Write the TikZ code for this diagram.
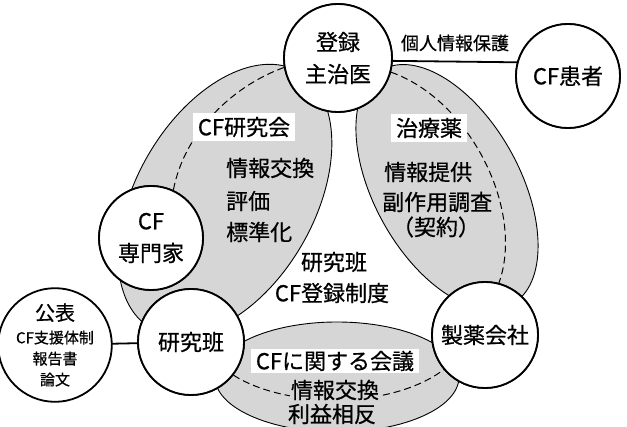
\documentclass[tikz,border=0pt]{standalone}
\usepackage{fontspec}
\setmainfont{Noto Sans CJK JP}[FakeBold=0.6]
\usetikzlibrary{shapes.geometric}
\definecolor{regiongray}{gray}{0.84}
\begin{document}
\begin{tikzpicture}[x=1pt,y=-1pt,
  circ/.style={circle, draw, line width=1.8pt, fill=white, inner sep=0pt, align=center,
    font=\fontsize{22}{32}\selectfont},
  region/.style={ellipse, draw, line width=0.9pt, fill=regiongray, inner sep=0pt},
  dashline/.style={dash pattern=on 7pt off 4pt, line width=1pt},
  conn/.style={line width=1.8pt},
  wlabel/.style={fill=white, inner xsep=5pt, inner ysep=4pt, font=\fontsize{22}{24}\selectfont},
  glabel/.style={fill=regiongray, inner sep=1pt, font=\fontsize{22}{24}\selectfont},
  txt/.style={inner sep=0pt, font=\fontsize{22}{24}\selectfont}
]
\useasboundingbox[fill=white] (0,0) rectangle (627,427);

% shaded regions
\node[region, minimum width=296pt, minimum height=178pt, rotate=60] (leftreg) at (225,200) {};
\node[region, minimum width=268pt, minimum height=146pt, rotate=-61] (rightreg) at (447,187) {};
\node[region, minimum width=244pt, minimum height=110pt] (bottomreg) at (337,377) {};

% circles (declared first for anchors)
\path
  (338,58) node[circ, minimum size=108pt] (doroku) {}
  (568,76) node[circ, minimum size=104pt] (patient) {}
  (151,238) node[circ, minimum size=104pt] (expert) {}
  (191,342) node[circ, minimum size=106pt] (kenkyu) {}
  (55,345) node[circ, minimum size=100pt] (kohyo) {}
  (485,335) node[circ, minimum size=106pt] (seiyaku) {};

% dashed arcs
\draw[dashline] (doroku.190) .. controls (235,85) and (185,130) .. (expert.65);
\draw[dashline] (doroku.-15) .. controls (470,100) and (525,210) .. (seiyaku.75);
\draw[dashline] (kenkyu.-38) .. controls (285,408) and (390,410) .. (seiyaku.220);

% labels in regions
\node[wlabel] (lab1) at (244,127) {CF研究会};
\node[txt, anchor=west] (l1a) at (226,168) {情報交換};
\node[txt, anchor=west] (l1b) at (226,201) {評価};
\node[txt, anchor=west] (l1c) at (226,232) {標準化};

\node[wlabel] (lab2) at (429,128) {治療薬};
\node[txt, anchor=west] (l2a) at (384,172) {情報提供};
\node[txt, anchor=west] (l2b) at (382,202) {副作用調査};
\node[txt] (l2c) at (436,227) {（契約）};

\node[txt] (mid1) at (334,262) {研究班};
\node[txt] (mid2) at (332,293) {CF登録制度};

\node[wlabel, inner ysep=2pt] (lab3) at (335,361) {CFに関する会議};
\node[glabel] (l3a) at (335,390) {情報交換};
\node[glabel] (l3b) at (332,414) {利益相反};

% connectors
\draw[conn] (doroku.-3) -- (patient.165);
\draw[conn] (kohyo) -- (kenkyu);
\node[inner sep=0pt, font=\fontsize{18}{20}\selectfont] (privacy) at (455,43) {個人情報保護};

% circles drawn on top
\path
  (338,58) node[circ, minimum size=108pt] {登録\\主治医}
  (568,76) node[circ, minimum size=104pt] {CF患者}
  (151,238) node[circ, minimum size=104pt] {CF\\専門家}
  (191,342) node[circ, minimum size=106pt] {研究班}
  (55,345) node[circ, minimum size=100pt, font=\fontsize{15}{21}\selectfont]
     {{\fontsize{20}{24}\selectfont 公表}\\[2pt] CF支援体制\\ 報告書\\ 論文}
  (485,335) node[circ, minimum size=106pt] {製薬会社};
\end{tikzpicture}
\end{document}
